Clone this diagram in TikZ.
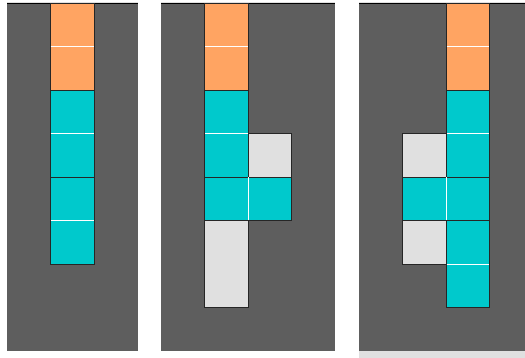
\documentclass[tikz,border=0pt]{standalone}
\usepackage{tikz}
\usetikzlibrary{positioning,calc}

\definecolor{boardgray}{RGB}{94,94,94}
\definecolor{domorange}{RGB}{255,164,98}
\definecolor{domcyan}{RGB}{0,201,204}
\definecolor{domgray}{RGB}{224,224,224}

\begin{document}
\begin{tikzpicture}[x=1pt,y=-1pt,
    piece/.style={draw=black!85, line width=0.9pt},
    seam/.style={draw=white, line width=0.8pt}]
    \useasboundingbox (0,0) rectangle (525,358);
    \fill[white] (0,0) rectangle (525,358);

    % boards
    \fill[boardgray] (7,3) rectangle (138,351);
    \fill[boardgray] (161,3) rectangle (335,351);
    \fill[boardgray] (359,3) rectangle (525,351);
    \fill[domgray] (359,351) rectangle (525,358);
    \foreach \xa/\xb in {7/138, 161/335, 359/525} {
      \draw[domgray, line width=0.8pt] (\xa,2.2) -- (\xb,2.2);
      \draw[black, line width=0.9pt] (\xa,3.4) -- (\xb,3.4);
    }

    % board 1
    \filldraw[piece, fill=domorange] (50,3) rectangle (94,90);
    \draw[seam] (50.5,46.5) -- (93.5,46.5);
    \filldraw[piece, fill=domcyan] (50,90) rectangle (94,177);
    \draw[seam] (50.5,133.5) -- (93.5,133.5);
    \filldraw[piece, fill=domcyan] (50,177) rectangle (94,264);
    \draw[seam] (50.5,220.5) -- (93.5,220.5);

    % board 2
    \filldraw[piece, fill=domorange] (204.5,3) rectangle (248,90);
    \draw[seam] (205,46.5) -- (247.5,46.5);
    \filldraw[piece, fill=domcyan] (204.5,90) rectangle (248,177);
    \draw[seam] (205,133.5) -- (247.5,133.5);
    \filldraw[piece, fill=domgray] (248,133.5) rectangle (291.5,177);
    \filldraw[piece, fill=domcyan] (204.5,177) rectangle (291.5,220.5);
    \draw[seam] (248,177.5) -- (248,220);
    \filldraw[piece, fill=domgray] (204.5,220.5) rectangle (248,307.5);

    % board 3
    \filldraw[piece, fill=domorange] (446,3) rectangle (489.5,90);
    \draw[seam] (446.5,46.5) -- (489,46.5);
    \filldraw[piece, fill=domcyan] (446,90) rectangle (489.5,177);
    \draw[seam] (446.5,133.5) -- (489,133.5);
    \filldraw[piece, fill=domgray] (402.5,133.5) rectangle (446,177);
    \filldraw[piece, fill=domcyan] (402.5,177) rectangle (489.5,220.5);
    \draw[seam] (446,177.5) -- (446,220);
    \filldraw[piece, fill=domgray] (402.5,220.5) rectangle (446,264);
    \filldraw[piece, fill=domcyan] (446,220.5) rectangle (489.5,307.5);
    \draw[seam] (446.5,264) -- (489,264);
\end{tikzpicture}
\end{document}
